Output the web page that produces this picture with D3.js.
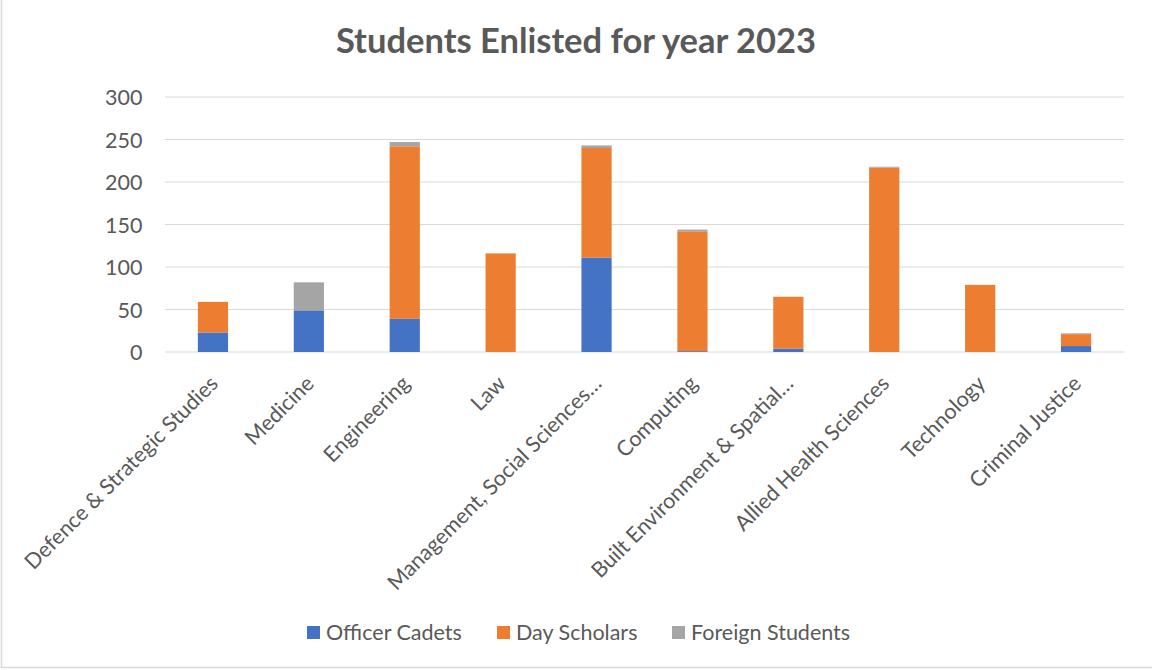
<!DOCTYPE html>
<html><head><meta charset="utf-8">
<script src="https://cdn.jsdelivr.net/npm/d3@7"></script>
<style>body{margin:0;background:#fff;}svg{display:block;}</style>
</head><body>
<svg id="c" width="1152" height="670"></svg>
<script>
const categories = ["Defence & Strategic Studies","Medicine","Engineering","Law","Management, Social Sciences…","Computing","Built Environment & Spatial…","Allied Health Sciences","Technology","Criminal Justice"];
const seriesNames = ["Officer Cadets","Day Scholars","Foreign Students"];
const officerCadets = [23,49,39,0,111,1,4,0,0,7];
const dayScholars = [36,0,203,116,129,141,61,217,79,14];
const foreignStudents = [0,33,5,0,3,2,0,1,0,1];
const yTicks = [0,50,100,150,200,250,300];
const colors = ["#4472C4","#ED7D31","#A5A5A5"];

(function(){
const svg = d3.select("#c");
const font = "Lato, 'Open Sans', sans-serif";
const textColor = "#595959";
const fs = 21.5;

svg.append("rect").attr("x",1.5).attr("y",-2).attr("width",1152).attr("height",669.5)
  .attr("fill","#fff").attr("stroke","#d9d9d9").attr("stroke-width",1.5);

const pLeft = 165, pRight = 1124, pTop = 97, pBottom = 352;
const x = d3.scaleBand().domain(categories).range([pLeft,pRight]).paddingInner(0.685).paddingOuter(0.3425);
const y = d3.scaleLinear().domain([0,300]).range([pBottom,pTop]);

svg.append("g").selectAll("line").data(yTicks).join("line")
  .attr("x1",pLeft).attr("x2",pRight)
  .attr("y1",d=>y(d)).attr("y2",d=>y(d))
  .attr("stroke","#d9d9d9").attr("stroke-width",1.2);

const yAxis = d3.axisLeft(y).tickValues(yTicks).tickSize(0).tickPadding(0);
const gy = svg.append("g").attr("transform",`translate(${pLeft-22.5},0)`).call(yAxis);
gy.select(".domain").remove();
gy.selectAll("text").attr("font-family",font).attr("font-size",fs).attr("fill",textColor).attr("dy","0.36em");

const rows = categories.map((c,i)=>({cat:c, "Officer Cadets":officerCadets[i], "Day Scholars":dayScholars[i], "Foreign Students":foreignStudents[i]}));
const stack = d3.stack().keys(seriesNames)(rows);

svg.append("g").selectAll("g").data(stack).join("g")
  .attr("fill",(d,i)=>colors[i])
  .selectAll("rect").data(d=>d).join("rect")
  .attr("x",d=>x(d.data.cat))
  .attr("width",x.bandwidth())
  .attr("y",d=>y(d[1]))
  .attr("height",d=>Math.max(0,y(d[0])-y(d[1])));

const xAxis = d3.axisBottom(x).tickSize(0).tickPadding(0);
const gx = svg.append("g").attr("transform",`translate(0,${pBottom+18})`).call(xAxis);
gx.select(".domain").remove();
gx.selectAll("text")
  .attr("font-family",font).attr("font-size",fs).attr("fill",textColor)
  .attr("text-anchor","end").attr("dy","0.7em").attr("dx","-0.28em")
  .attr("transform","rotate(-45)");

svg.append("text").attr("x",576).attr("y",53).attr("text-anchor","middle")
  .attr("font-family",font).attr("font-weight","bold").attr("font-size",34.5)
  .attr("fill",textColor).text("Students Enlisted for year 2023");

const legendX = [307,497,672];
const lg = svg.append("g").selectAll("g").data(seriesNames).join("g")
  .attr("transform",(d,i)=>`translate(${legendX[i]},626)`);
lg.append("rect").attr("width",13).attr("height",13).attr("fill",(d,i)=>colors[i]);
lg.append("text").attr("x",19).attr("y",6.5).attr("dy","0.36em")
  .attr("font-family",font).attr("font-size",fs).attr("fill",textColor).text(d=>d);
})();
</script>
</body></html>
